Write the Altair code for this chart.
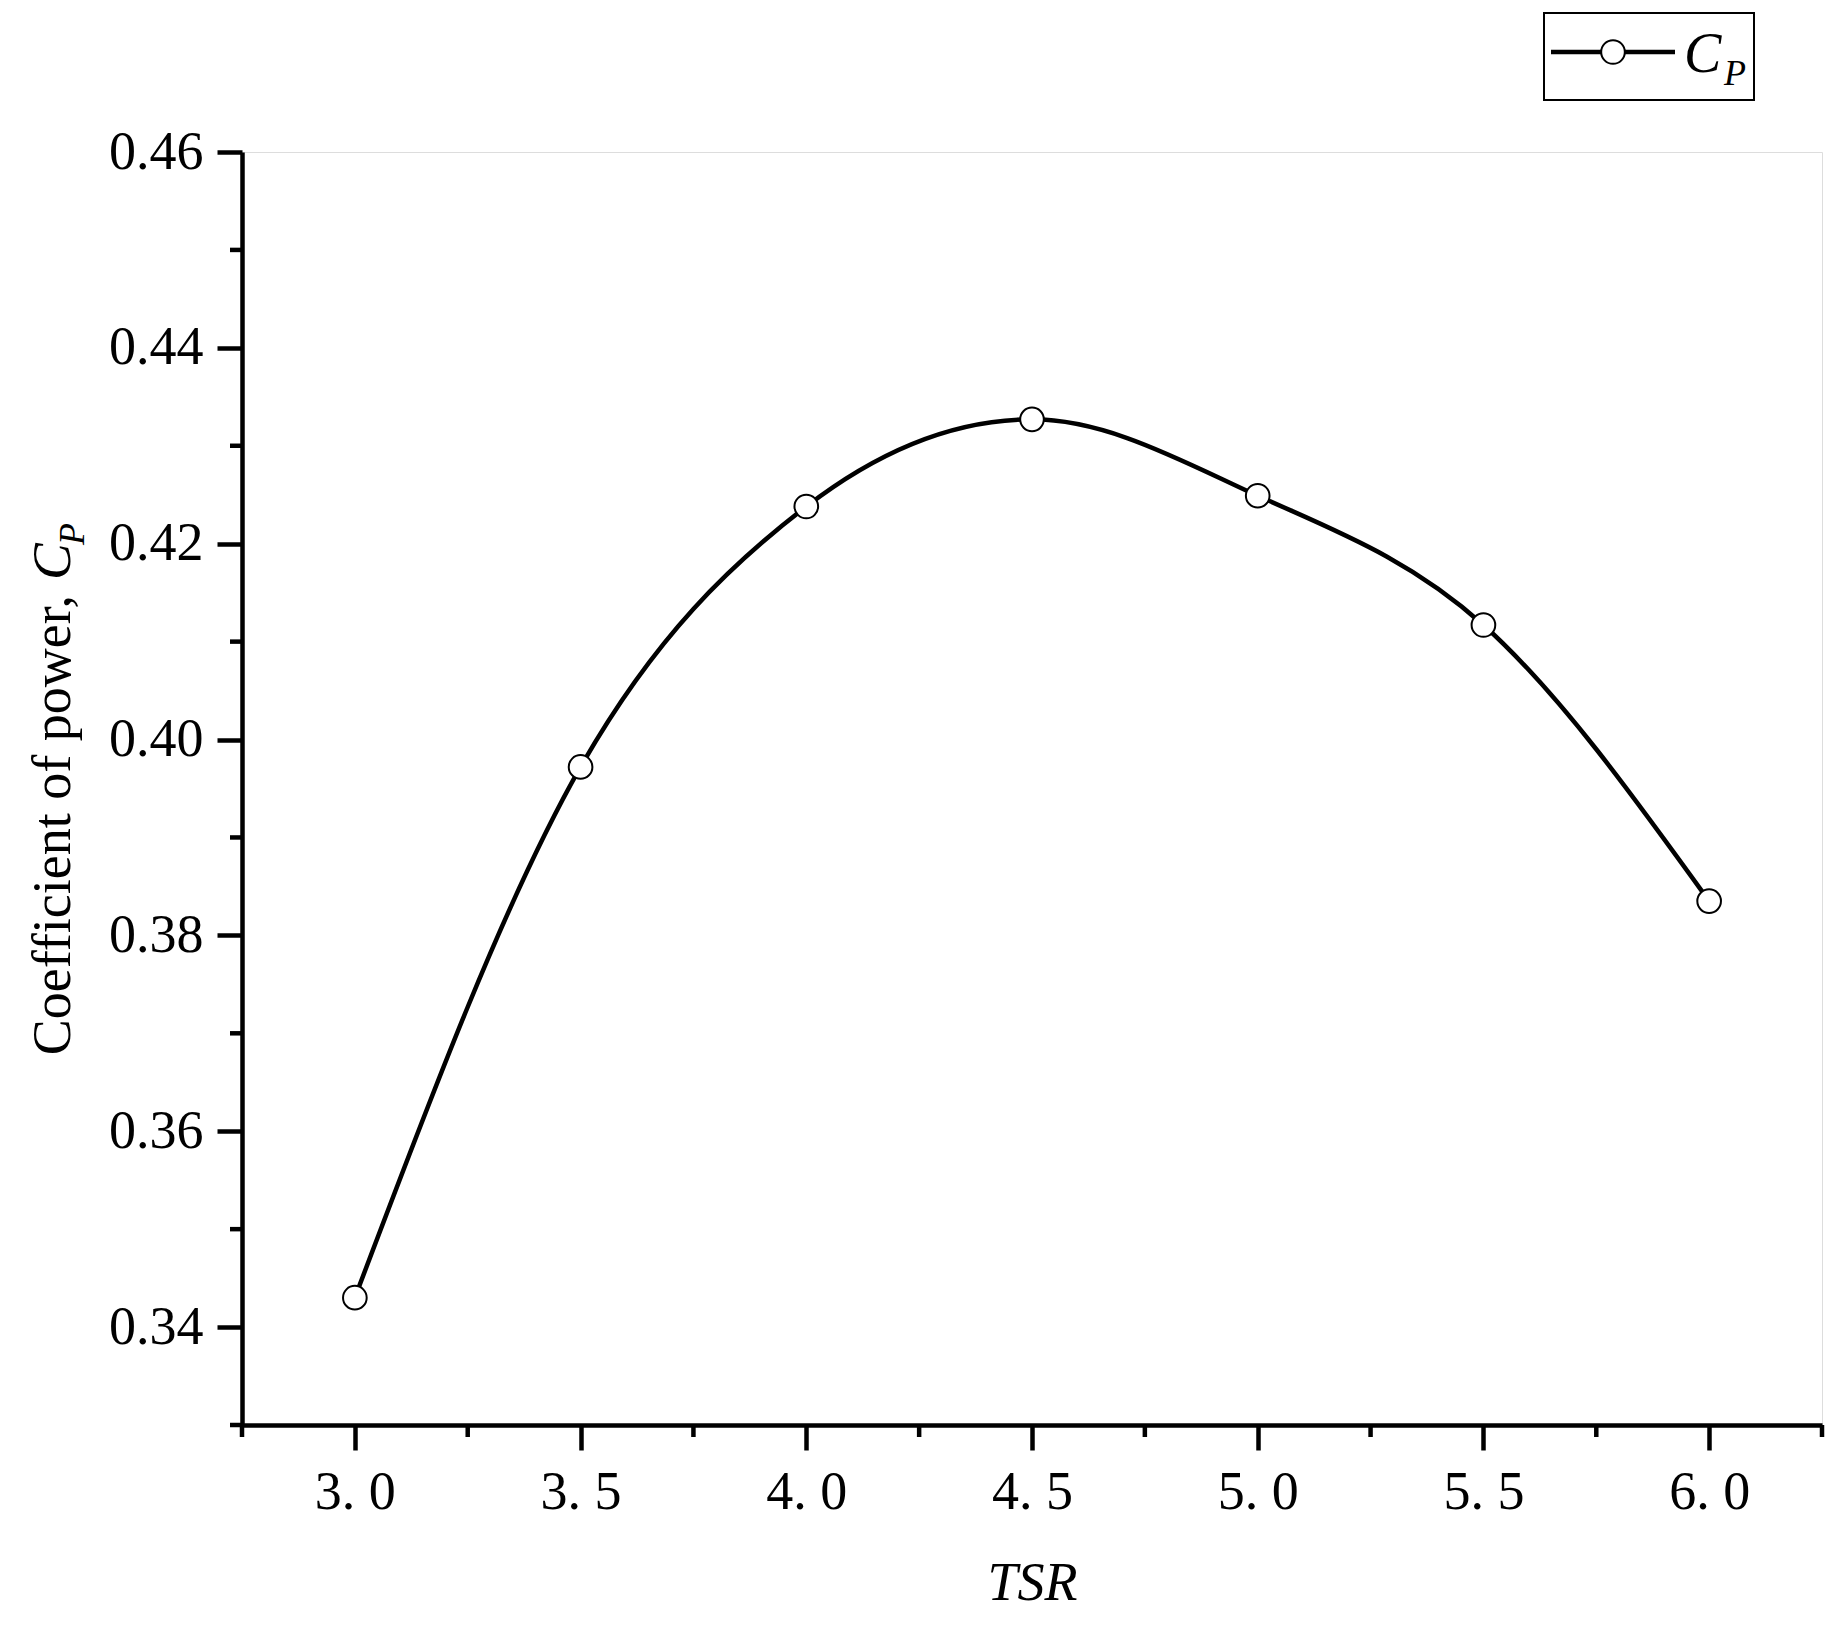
import altair as alt
import pandas as pd

# ---- data ----
tsr = [3.0, 3.5, 4.0, 4.5, 5.0, 5.5, 6.0]
cp = [0.3430, 0.3972, 0.4238, 0.4327, 0.4249, 0.4117, 0.3835]
x_major = [3.0, 3.5, 4.0, 4.5, 5.0, 5.5, 6.0]
x_minor = [2.75, 3.25, 3.75, 4.25, 4.75, 5.25, 5.75, 6.25]
y_major = [0.34, 0.36, 0.38, 0.40, 0.42, 0.44, 0.46]
y_minor = [0.33, 0.35, 0.37, 0.39, 0.41, 0.43, 0.45]
legend_main = "C"
legend_sub = "P"
y_title_main = "Coefficient of power,"
y_title_sym = "C"
y_title_sub = "P"
x_title = "TSR"

W, H = 1580, 1273
FONT = "Liberation Serif"
LW = 4.5

df = pd.DataFrame({"TSR": tsr, "CP": cp})
dxm = pd.DataFrame({"TSR": x_minor})
dym = pd.DataFrame({"CP": y_minor})
one = pd.DataFrame({"a": [0]})

xscale = alt.Scale(domain=[2.75, 6.25], nice=False, zero=False)
yscale = alt.Scale(domain=[0.33, 0.46], nice=False, zero=False)

xaxis = alt.Axis(
    values=x_major,
    labelExpr="replace(format(datum.value, '.1f'), '.', '. ')",
    title=x_title,
    titleFont=FONT, titleFontStyle="italic", titleFontWeight="normal",
    titleFontSize=54, titleColor="black", titlePadding=37,
    labelFont=FONT, labelFontSize=54, labelColor="black", labelPadding=15,
    tickSize=25, tickWidth=LW, tickColor="black",
    domainWidth=LW, domainColor="black", grid=False,
)
yaxis = alt.Axis(
    values=y_major, format=".2f", title="",
    labelFont=FONT, labelFontSize=54, labelColor="black", labelPadding=14,
    tickSize=25, tickWidth=LW, tickColor="black",
    domainWidth=LW, domainColor="black", grid=False,
)

X = alt.X("TSR:Q", scale=xscale, axis=xaxis)
Y = alt.Y("CP:Q", scale=yscale, axis=yaxis)

line = alt.Chart(df).mark_line(interpolate="monotone", color="black", strokeWidth=4.5).encode(x=X, y=Y)
pts = alt.Chart(df).mark_point(shape="circle", filled=True, fill="white", stroke="black",
                               strokeWidth=2, size=560, opacity=1).encode(x=X, y=Y)

xmin = alt.Chart(dxm).mark_rule(color="black", strokeWidth=LW).encode(
    x=alt.X("TSR:Q", scale=xscale, axis=xaxis), y=alt.value(H), y2=alt.value(H + 12))
ymin = alt.Chart(dym).mark_rule(color="black", strokeWidth=LW).encode(
    y=alt.Y("CP:Q", scale=yscale, axis=yaxis), x=alt.value(0), x2=alt.value(-12))

# legend
leg_box = alt.Chart(one).mark_rect(fillOpacity=0, stroke="black", strokeWidth=2).encode(
    x=alt.value(1302), x2=alt.value(1512), y=alt.value(-139), y2=alt.value(-52))
leg_line = alt.Chart(one).mark_rule(color="black", strokeWidth=4.5).encode(
    x=alt.value(1309), x2=alt.value(1433), y=alt.value(-100))
leg_pt = alt.Chart(one).mark_point(shape="circle", filled=True, fill="white", stroke="black",
                                   strokeWidth=2, size=560, opacity=1).encode(
    x=alt.value(1371), y=alt.value(-100))
leg_c = alt.Chart(one).mark_text(text=legend_main, font=FONT, fontStyle="italic", fontSize=56,
                                 align="left", baseline="alphabetic", color="black").encode(
    x=alt.value(1442), y=alt.value(-80))
leg_p = alt.Chart(one).mark_text(text=legend_sub, font=FONT, fontStyle="italic", fontSize=36,
                                 align="left", baseline="alphabetic", color="black").encode(
    x=alt.value(1482), y=alt.value(-67))

# y title
yt1 = alt.Chart(one).mark_text(text=y_title_main, font=FONT, fontSize=54, angle=270,
                               align="right", baseline="alphabetic", color="black").encode(
    x=alt.value(-172), y=alt.value(443))
yt2 = alt.Chart(one).mark_text(text=y_title_sym, font=FONT, fontStyle="italic", fontSize=55, angle=270,
                               align="left", baseline="alphabetic", color="black").encode(
    x=alt.value(-172), y=alt.value(428))
yt3 = alt.Chart(one).mark_text(text=y_title_sub, font=FONT, fontStyle="italic", fontSize=36, angle=270,
                               align="left", baseline="alphabetic", color="black").encode(
    x=alt.value(-158), y=alt.value(393))

chart = alt.layer(xmin, ymin, line, pts, leg_box, leg_line, leg_pt, leg_c, leg_p, yt1, yt2, yt3).properties(
    width=W, height=H,
    autosize=alt.AutoSizeParams(type="none"),
    padding={"left": 234, "top": 144, "right": 7, "bottom": 190},
).configure_view(stroke=None).configure(background="white")

chart.save("out.html", embed_options={"renderer": "svg", "actions": False})
